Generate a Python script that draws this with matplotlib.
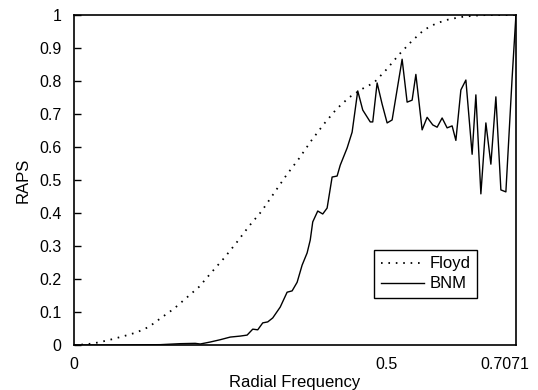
import matplotlib
matplotlib.use("Agg")
import matplotlib.pyplot as plt
import matplotlib.transforms as mtransforms

plt.rcParams['font.family'] = ['Liberation Sans', 'DejaVu Sans']

# Floyd curve
floyd_x = [0, 0.02, 0.04, 0.06, 0.08, 0.10, 0.12, 0.14, 0.16, 0.18, 0.20, 0.22,
           0.24, 0.26, 0.28, 0.30, 0.32, 0.34, 0.36, 0.38, 0.40, 0.42, 0.44,
           0.46, 0.48, 0.50, 0.52, 0.54, 0.56, 0.58, 0.60, 0.62, 0.64, 0.66,
           0.68, 0.70, 0.7071]
floyd_y = [0, 0.002, 0.008, 0.017, 0.027, 0.038, 0.055, 0.083, 0.11, 0.143,
           0.176, 0.22, 0.263, 0.31, 0.36, 0.405, 0.46, 0.515, 0.565, 0.62,
           0.67, 0.715, 0.75, 0.775, 0.795, 0.835, 0.88, 0.92, 0.955, 0.975,
           0.987, 0.994, 0.998, 1.0, 1.0, 1.0, 1.0]

# BNM curve
bnm_x = [0, 0.074, 0.138, 0.170, 0.194, 0.202, 0.218, 0.234, 0.250, 0.266,
         0.277, 0.286, 0.294, 0.302, 0.310, 0.318, 0.330, 0.341, 0.349, 0.357,
         0.365, 0.373, 0.378, 0.382, 0.390, 0.398, 0.405, 0.413, 0.421, 0.426,
         0.437, 0.445, 0.454, 0.462, 0.474, 0.478, 0.485, 0.493, 0.501, 0.509,
         0.525, 0.533, 0.541, 0.547, 0.557, 0.565, 0.574, 0.581, 0.589, 0.597,
         0.605, 0.611, 0.619, 0.627, 0.637, 0.643, 0.651, 0.659, 0.667, 0.675,
         0.683, 0.691, 0.701, 0.7071]
bnm_y = [0, 0, 0.001, 0.004, 0.005, 0.003, 0.009, 0.016, 0.024, 0.027,
         0.030, 0.048, 0.046, 0.067, 0.070, 0.082, 0.115, 0.160, 0.164, 0.190,
         0.242, 0.279, 0.318, 0.373, 0.406, 0.397, 0.415, 0.509, 0.512, 0.545,
         0.597, 0.645, 0.770, 0.712, 0.676, 0.676, 0.794, 0.730, 0.673, 0.682,
         0.866, 0.736, 0.742, 0.820, 0.652, 0.690, 0.667, 0.660, 0.688, 0.658,
         0.664, 0.620, 0.773, 0.803, 0.578, 0.758, 0.458, 0.673, 0.548, 0.752,
         0.470, 0.464, 0.810, 1.0]

x_ticks = [0, 0.5, 0.7071]
x_tick_labels = ["0", "0.5", "0.7071"]
y_ticks = [0, 0.1, 0.2, 0.3, 0.4, 0.5, 0.6, 0.7, 0.8, 0.9, 1]
y_tick_labels = ["0", "0.1", "0.2", "0.3", "0.4", "0.5", "0.6", "0.7", "0.8", "0.9", "1"]

fig = plt.figure(figsize=(5.38, 3.9), dpi=100)
ax = fig.add_axes([0.1375, 0.1154, 0.8215, 0.8461])

ax.plot(floyd_x, floyd_y, color="black", linestyle=(0, (0.9, 3.2)), linewidth=1.3, label="Floyd")
ax.plot(bnm_x, bnm_y, color="black", linestyle="-", linewidth=1.0, label="BNM")

ax.set_xlim(0, 0.7071)
ax.set_ylim(0, 1)
ax.set_xticks(x_ticks)
ax.set_xticklabels(x_tick_labels)
ax.set_yticks(y_ticks)
ax.set_yticklabels(y_tick_labels)
ax.tick_params(axis="x", length=0, pad=9, labelsize=11.5)
ax.tick_params(axis="y", direction="in", length=5, width=1, pad=9, labelsize=11.5)

# last x label sits a bit left of its tick
lab = ax.get_xticklabels()[-1]
lab.set_transform(lab.get_transform() + mtransforms.ScaledTranslation(-8 / 72, 0, fig.dpi_scale_trans))

for s in ax.spines.values():
    s.set_linewidth(1.2)

ax.set_xlabel("Radial Frequency", fontsize=12, labelpad=2)
ax.set_ylabel("RAPS", fontsize=12, labelpad=6)

leg = ax.legend(loc="lower right", bbox_to_anchor=(0.912, 0.142), fontsize=12,
                fancybox=False, framealpha=1, edgecolor="black",
                handlelength=2.6, borderpad=0.4, labelspacing=0.3, handletextpad=0.3,
                borderaxespad=0)
leg.get_frame().set_linewidth(1.0)

fig.savefig("out.png", dpi=100)
